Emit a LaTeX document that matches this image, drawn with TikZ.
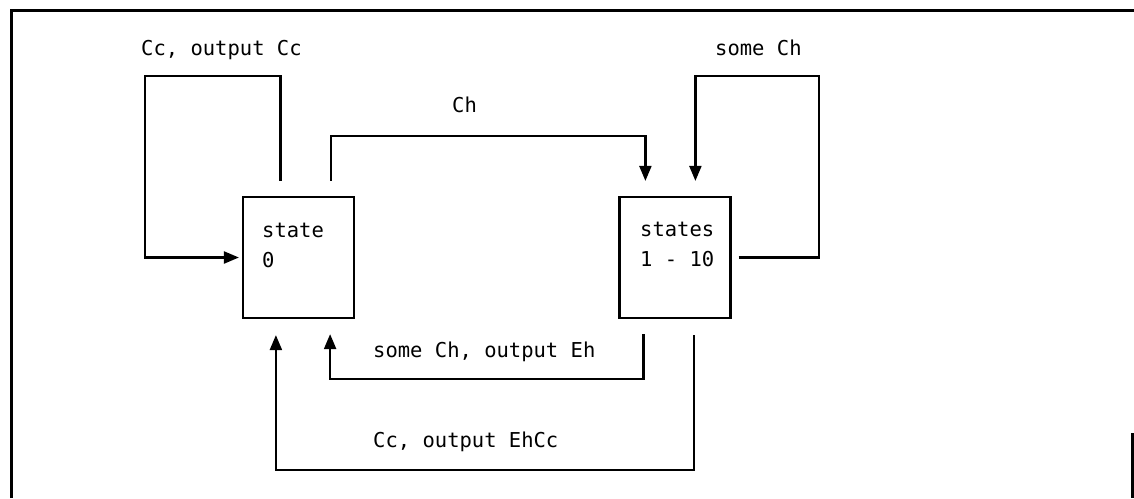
\documentclass[tikz,border=0pt]{standalone}
\usepackage{fontspec}
\setmonofont{DejaVu Sans Mono}
\usetikzlibrary{arrows.meta}
\begin{document}
\begin{tikzpicture}[x=1pt,y=-1pt,
  box/.style={draw,line width=2.2pt,minimum width=111pt,minimum height=121pt,inner sep=0pt},
  txt/.style={anchor=base west,inner sep=0pt,font=\ttfamily\fontsize{20.5}{24}\selectfont},
  conn/.style={line width=2.2pt},
  arr/.style={conn,-{Triangle[length=15pt,width=12pt]}},
  frame/.style={line width=3pt}]
\useasboundingbox (0,0) rectangle (1134,498);
% frame
\draw[frame] (11,498) -- (11,10) -- (1134,10);
\draw[frame] (1132.5,433) -- (1132.5,498);
% state boxes
\node[box] (s0) at (298.5,257.5) {};
\node[box] (s1) at (675,257.5) {};
\node[txt] (s0a) at (262,237) {state};
\node[txt] (s0b) at (262,267) {0};
\node[txt] (s1a) at (640,236) {states};
\node[txt] (s1b) at (640,266) {1 - 10};
% self loop state 0
\draw[arr] ([xshift=-18pt,yshift=15pt]s0.north) -- ++(0,-105) -| ([xshift=-97pt]s0.west) -- ([xshift=-3pt]s0.west);
\node[txt] (l1) at (141,55) {Cc, output Cc};
% Ch
\draw[arr] ([xshift=-24pt,yshift=15pt]s0.north east) |- ([xshift=27pt,yshift=60pt]s1.north west) -- ([xshift=27pt,yshift=15pt]s1.north west);
\node[txt] (l2) at (452,112) {Ch};
% self loop states
\draw[arr] ([xshift=7pt]s1.east) -- ++(80,0) |- ([xshift=77pt,yshift=120pt]s1.north west) -- ([xshift=77pt,yshift=15pt]s1.north west);
\node[txt] (l3) at (715,55) {some Ch};
% some Ch, output Eh
\draw[arr] ([xshift=25pt,yshift=-15pt]s1.south west) -- ++(0,45) -| ([xshift=-25pt,yshift=-15pt]s0.south east);
\node[txt] (l4) at (373,357) {some Ch, output Eh};
% Cc, output EhCc
\draw[arr] ([xshift=-38pt,yshift=-16pt]s1.south east) -- ++(0,135) -| ([xshift=34pt,yshift=-16pt]s0.south west);
\node[txt] (l5) at (373,447) {Cc, output EhCc};
\end{tikzpicture}
\end{document}
